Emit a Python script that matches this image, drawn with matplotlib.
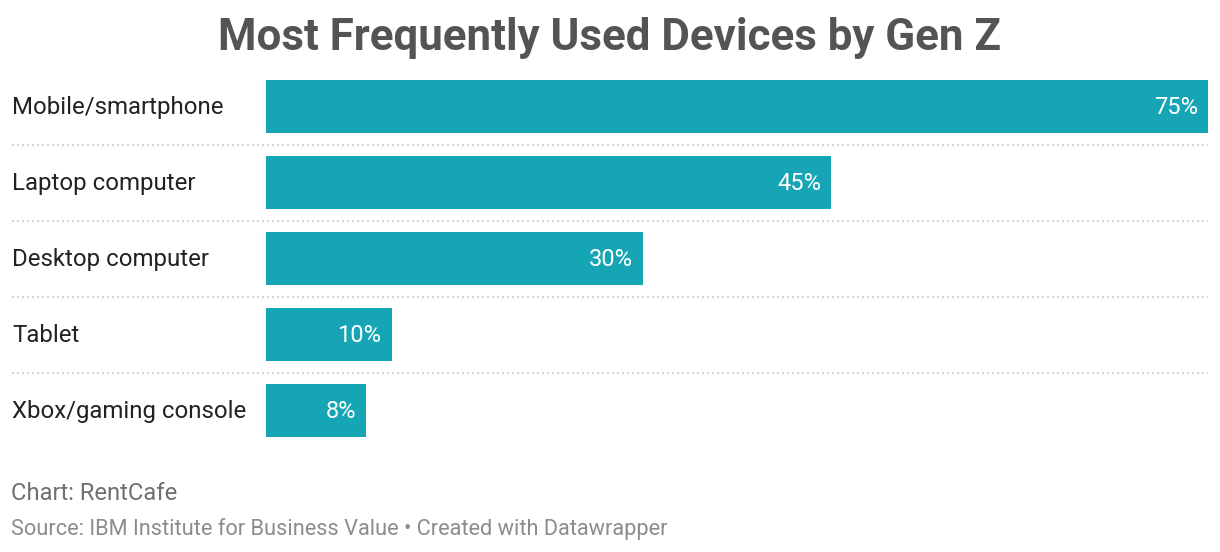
import matplotlib.pyplot as plt

# Chart data
devices = ['Mobile/smartphone', 'Laptop computer', 'Desktop computer', 'Tablet', 'Xbox/gaming console']
shares = [75, 45, 30, 10, 8]

W, H = 1220, 552
plt.rcParams['font.family'] = ['Roboto', 'DejaVu Sans']

fig = plt.figure(figsize=(W / 100, H / 100), dpi=100)
fig.patch.set_facecolor('white')

# axes placed in pixel coordinates: bars from x=266 to 1208, rows 68..448
left, right = 266, 1208
top, bottom = 68.5, 448.5
ax = fig.add_axes([left / W, 1 - bottom / H, (right - left) / W, (bottom - top) / H])

ypos = list(range(len(devices)))
ax.barh(ypos, shares, height=53 / 76, color='#16a5b4')
ax.set_xlim(0, max(shares))
ax.set_ylim(len(devices) - 0.5, -0.5)
ax.axis('off')

for y, name, v in zip(ypos, devices, shares):
    ax.text(-(left - 12) / (right - left) * max(shares), y + 0.015, name, ha='left', va='center',
            fontsize=17.3, color='#222222')
    ax.text(v - 0.8, y + 0.015, f'{v}%', ha='right', va='center', fontsize=17, color='white')

# dotted separators between rows
xmin = (12 - left) / (right - left)
for y in ypos[:-1]:
    ax.axhline(y + 0.5, xmin=xmin, xmax=1, color='#cccccc', lw=1.2,
               linestyle=(0, (1.2, 1.8)), clip_on=False)

fig.text(0.5, 1 - 38 / H, 'Most Frequently Used Devices by Gen Z', ha='center', va='center',
         fontsize=31.6, fontweight='bold', color='#545454')
fig.text(11 / W, 1 - 493.5 / H, 'Chart: RentCafe', ha='left', va='center', fontsize=17.1, color='#707070')
fig.text(11 / W, 1 - 529.5 / H, 'Source: IBM Institute for Business Value \u2022 Created with Datawrapper',
         ha='left', va='center', fontsize=15.7, color='#8c8c8c')

fig.savefig('out.png', dpi=100, facecolor='white')
